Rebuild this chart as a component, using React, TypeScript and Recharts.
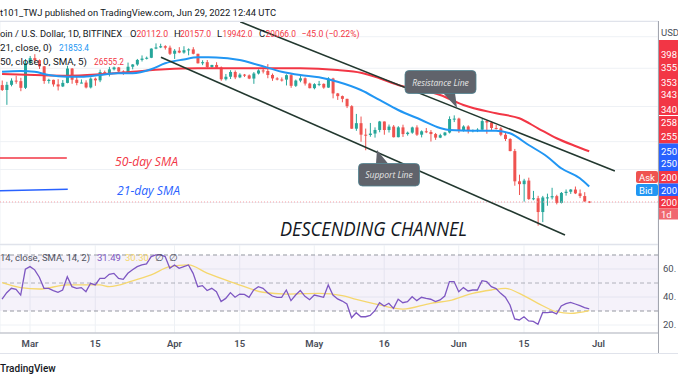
import React from 'react';
import {
  ComposedChart,
  Bar,
  Line,
  XAxis,
  YAxis,
  CartesianGrid,
  ReferenceLine,
  ReferenceArea,
} from 'recharts';

// day index counted from Mar 1 2022 (= 0); first candle is Feb 23
const FIRST_DAY = -6;

const OPEN = [
  38270, 37250, 38330, 39230, 39120, 37700,
  43190, 44420, 43920, 42450, 39150, 39400, 38420, 37990, 38740, 41940, 39420, 38730, 38810, 37780, 39670, 39290,
  41120, 40920, 41760, 42200, 41260, 41000, 42360, 42890, 43980, 44310, 44510, 46820, 47130, 47450, 47060,
  45510, 46280, 45810, 46410, 46620, 45500, 43170, 43440, 42290, 42780, 42160, 39530, 40080, 41150, 39940, 40550,
  40380, 39680, 40800, 41500, 41370, 40480, 39710, 39470, 39450, 40430, 38120, 39240, 39740, 38600,
  37630, 38470, 38530, 37750, 39690, 36550, 36010, 35470, 34060, 30080, 31010, 29100, 29050, 29280, 29870, 31300,
  29860, 30430, 28700, 30300, 29200, 29430, 30290, 29100, 29650, 29540, 29200, 28630, 29020, 29450, 31730,
  31800, 29800, 30450, 29700, 29860, 29910, 31370, 31130, 30200, 30110, 29090, 28420, 26580, 22490, 22140, 22580,
  20390, 20480, 18980, 20570, 20580, 20720, 19970, 21090, 21230, 21490, 21040, 20730, 20112,
];
const HIGH = [
  39250, 38970, 39730, 40300, 39850, 44200,
  44950, 45400, 44100, 42520, 39640, 39430, 39550, 39360, 42600, 42040, 40240, 39490, 39300, 39950, 39900, 41700,
  41470, 42320, 42400, 42300, 41540, 43340, 42990, 44220, 45090, 44800, 46900, 48190, 48100, 47700, 47600,
  46700, 47200, 47440, 46880, 47200, 45510, 43900, 43960, 42800, 43430, 42420, 40700, 41560, 41500, 40860, 40700,
  40590, 41120, 41760, 42200, 42980, 40800, 39980, 39930, 40620, 40800, 39460, 40370, 39920, 38790,
  38670, 39170, 38630, 39980, 39850, 36650, 36130, 35500, 34250, 32640, 32170, 30100, 31050, 30300, 31400, 31300,
  30780, 30690, 30500, 30750, 29600, 30420, 30650, 29800, 30200, 29850, 29380, 29250, 29550, 32200, 32380,
  31960, 30650, 30650, 29950, 30150, 31750, 31550, 31330, 30700, 30350, 29450, 28540, 26900, 23330, 22800, 22950,
  21330, 20760, 20750, 21010, 21700, 20880, 21200, 21500, 21550, 21850, 21500, 21180, 20157,
];
const LOW = [
  37050, 34320, 38010, 38550, 37000, 37450,
  42850, 43350, 41850, 38550, 38600, 37950, 37150, 37860, 38650, 38550, 38230, 38660, 37580, 37570, 38120, 38900,
  40500, 40140, 41500, 40900, 40500, 40880, 41750, 42580, 43600, 44100, 44420, 46660, 46950, 46580, 45200,
  44220, 45640, 45530, 45120, 45350, 43120, 42730, 42110, 42120, 42000, 39200, 39250, 39580, 39550, 39770, 40010,
  39550, 38540, 40580, 40820, 39750, 39180, 39290, 39030, 38200, 37700, 37880, 38880, 38180, 37580,
  37390, 38050, 37510, 37690, 35570, 35260, 34800, 33710, 30050, 29730, 27990, 26700, 28770, 28630, 29490, 29090,
  29450, 28650, 28680, 28740, 28950, 29250, 28900, 28670, 29350, 28020, 28280, 28550, 28870, 29300, 31200,
  29400, 29600, 29300, 29480, 29520, 29890, 29250, 29850, 29950, 28860, 28100, 26550, 21950, 20850, 20100, 20300,
  20260, 17600, 17950, 19650, 20350, 19800, 19900, 20780, 20980, 20960, 20500, 20100, 19942,
];
const CLOSE = [
  37250, 38330, 39230, 39120, 37700, 43190,
  44420, 43920, 42450, 39150, 39400, 38420, 37990, 38740, 41940, 39420, 38730, 38810, 37780, 39670, 39290, 41120,
  40920, 41760, 42200, 41260, 41000, 42360, 42890, 43980, 44310, 44510, 46820, 47130, 47450, 47060, 45510,
  46280, 45810, 46410, 46620, 45500, 43170, 43440, 42290, 42780, 42160, 39530, 40080, 41150, 39940, 40550, 40380,
  39680, 40800, 41500, 41370, 40480, 39710, 39470, 39450, 40430, 38120, 39240, 39740, 38600, 37630,
  38470, 38530, 37750, 39690, 36550, 36010, 35470, 34060, 30080, 31010, 29100, 29050, 29280, 29870, 31300, 29860,
  30430, 28700, 30300, 29200, 29430, 30290, 29100, 29650, 29540, 29200, 28630, 29020, 29450, 31730, 31800,
  29800, 30450, 29700, 29860, 29910, 31370, 31130, 30200, 30110, 29090, 28420, 26580, 22490, 22140, 22580, 20390,
  20480, 18980, 20570, 20580, 20720, 19970, 21090, 21230, 21490, 21040, 20730, 20112, 20066,
];

const RSI_VALUES = [
  38.4, 43.1, 46.2, 45.5, 41.4, 59.8,
  61.7, 59.4, 54.1, 46.2, 46.2, 44.6, 43.4, 45.0, 54.5, 47.4, 46.2, 46.7, 43.8, 49.8, 48.6, 53.3,
  53.3, 56.2, 56.9, 53.3, 52.6, 56.9, 59.4, 61.7, 62.9, 63.6, 68.9, 70.1, 70.1, 68.9, 60.5,
  62.9, 60.5, 61.7, 62.9, 56.9, 47.4, 48.1, 44.6, 46.2, 43.8, 36.7, 39.0, 43.1, 39.8, 42.1, 41.9,
  39.8, 45.0, 47.4, 46.2, 43.1, 40.7, 39.8, 39.8, 45.0, 37.4, 41.4, 44.6, 40.5, 38.1,
  41.4, 40.7, 39.8, 48.6, 41.4, 38.6, 37.1, 35.0, 25.2, 28.8, 25.9, 25.9, 26.9, 30.2, 35.9, 33.6,
  35.5, 31.9, 38.4, 35.9, 36.7, 40.2, 37.4, 39.8, 39.0, 38.4, 36.7, 37.9, 40.7, 51.0, 51.0,
  43.8, 46.7, 44.3, 45.0, 45.0, 51.7, 51.0, 47.4, 46.0, 42.6, 39.8, 34.3, 24.3, 23.6, 25.9, 22.9,
  22.6, 20.5, 28.8, 28.8, 29.3, 27.9, 33.6, 35.2, 36.2, 35.0, 33.8, 32.4, 31.5,
];

// moving averages at a few days
const SMA21_DAYS = [-6, -2, 1, 4, 8, 11, 15, 19, 22, 26, 29, 33, 36, 40, 45, 49, 54, 58, 62, 66, 71, 75, 79, 84, 88, 90, 95, 100, 103, 107, 111, 114, 118, 120];
const SMA21_VALUES = [41200, 41400, 41200, 40470, 40090, 40090, 40470, 40850, 40850, 41770, 43170, 44100, 44620, 44600, 43970, 42770, 41210, 40470, 39960, 39000, 37250, 35250, 33350, 31560, 30200, 29860, 29750, 29750, 29330, 27490, 25770, 24170, 22870, 21853];
const SMA50_DAYS = [-6, 1, 8, 15, 22, 29, 36, 43, 49, 58, 66, 71, 75, 79, 84, 88, 93, 100, 105, 109, 113, 117, 120];
const SMA50_VALUES = [40690, 40470, 40310, 40630, 41210, 41770, 42000, 42000, 42000, 42000, 41600, 40990, 39740, 38290, 37250, 36240, 34290, 32750, 31860, 30150, 28530, 27340, 26555];
const RSI_SMA_DAYS = [-6, -2, 2, 8, 15, 17, 22, 26, 30, 34, 38, 44, 50, 55, 62, 67, 70, 75, 80, 86, 90, 95, 99, 102, 105, 109, 113, 116, 120];
const RSI_SMA_VALUES = [50.2, 46.7, 45.7, 48.6, 48.6, 47.4, 51.5, 55.8, 61.7, 62.9, 57.0, 49.8, 43.4, 42.1, 42.6, 41.0, 38.3, 34.3, 31.4, 35.5, 37.4, 42.6, 45.0, 46.2, 42.6, 35.5, 29.5, 28.3, 30.3];

const LAST_PRICE = 20066;

// drawings, in chart coordinates (day, price)
const RESISTANCE_LINE = [{ x: 45.1, y: 54300 }, { x: 125.5, y: 23810 }];
const SUPPORT_LINE = [{ x: 28.1, y: 44630 }, { x: 114.8, y: 16720 }];
const SMA50_SWATCH = [{ x: -6.44, y: 25580 }, { x: 7.9, y: 25580 }];
const SMA21_SWATCH = [{ x: -6.44, y: 21360 }, { x: 8.1, y: 21520 }];

const TIME_TICKS = [0, 14, 31, 45, 61, 76, 92, 106, 122];
const TIME_LABELS = ['Mar', '15', 'Apr', '15', 'May', '16', 'Jun', '15', 'Jul'];
const PRICE_TICKS = [18000, 20000, 24000, 28000, 34000, 42000, 50000];
const RSI_TICKS = [20, 40, 60];

const X_DOMAIN: [number, number] = [-6.44, 134.76];
const PRICE_DOMAIN: [number, number] = [15907, 54536];
const RSI_DOMAIN: [number, number] = [14.29, 77.14];

const UP = '#26a69a';
const DOWN = '#ef5350';
const RED = '#f23645';
const BLUE = '#2196f3';
const GRID = '#eef1f5';
const CHANNEL = '#22382f';
const FONT = 'Roboto, "Open Sans", sans-serif';
const ITALIC_FONT = '"Open Sans", Roboto, sans-serif';

type Row = { d: number; open: number; high: number; low: number; close: number };

const CANDLES: Row[] = CLOSE.map((c, i) => ({
  d: FIRST_DAY + i,
  open: OPEN[i],
  high: HIGH[i],
  low: LOW[i],
  close: c,
}));
const RSI_DATA = RSI_VALUES.map((v, i) => ({ d: FIRST_DAY + i, v }));
const SMA21 = SMA21_DAYS.map((d, i) => ({ d, v: SMA21_VALUES[i] }));
const SMA50 = SMA50_DAYS.map((d, i) => ({ d, v: SMA50_VALUES[i] }));
const RSI_SMA = RSI_SMA_DAYS.map((d, i) => ({ d, v: RSI_SMA_VALUES[i] }));

const Candle = (props: any) => {
  const { x, y, width, height, payload } = props;
  if (x == null || y == null || !payload) return <g />;
  const top = Math.min(y, y + height);
  const bot = Math.max(y, y + height);
  const lh = Math.log(payload.high);
  const ll = Math.log(payload.low);
  const span = lh - ll || 1;
  // log price axis: place open/close between the scaled high and low
  const py = (p: number) => top + ((lh - Math.log(p)) / span) * (bot - top);
  const color = payload.close >= payload.open ? UP : DOWN;
  const yo = py(payload.open);
  const yc = py(payload.close);
  const cx = x + width / 2;
  return (
    <g>
      <line x1={cx} x2={cx} y1={top} y2={bot} stroke={color} strokeWidth={1} />
      <rect x={x} y={Math.min(yo, yc)} width={width} height={Math.max(1, Math.abs(yc - yo))} fill={color} />
    </g>
  );
};

const PriceTick = (props: any) => {
  const { x, y, payload } = props;
  if (payload.value !== 18000) return <g />;
  return (
    <text x={x} y={y} dy={3.5} fontSize={9.5} fill="#4a4e59" fontFamily={FONT}>
      180
    </text>
  );
};

const txt = (x: number, y: number, s: string, fill = '#131722', extra: any = {}) => (
  <text x={x} y={y} fill={fill} fontSize={9.5} dominantBaseline="central" fontFamily={FONT} {...extra}>
    {s}
  </text>
);
const fit = (w: number) => ({ textLength: w, lengthAdjust: 'spacingAndGlyphs' });

const AXIS_BOXES = [
  { y: 40, h: 75, fill: RED },
  { y: 116, h: 27.5, fill: RED },
  { y: 143.5, h: 27.5, fill: '#2962ff' },
  { y: 171, h: 12.5, fill: RED },
  { y: 183.5, h: 12.5, fill: '#2962ff' },
  { y: 196, h: 12.5, fill: RED },
  { y: 208.5, h: 11, fill: '#f0676f' },
];
const AXIS_LABELS = [
  { y: 54, s: '398' }, { y: 67, s: '355' }, { y: 82, s: '353' }, { y: 94, s: '343' }, { y: 109, s: '340' },
  { y: 122, s: '258' }, { y: 136, s: '255' }, { y: 151, s: '250' }, { y: 163, s: '250' },
  { y: 177, s: '200' }, { y: 190, s: '200' }, { y: 202.5, s: '200' }, { y: 214, s: '1d' },
];

const Overlay = () => (
  <svg width={678} height={381} style={{ position: 'absolute', left: 0, top: 0, pointerEvents: 'none' }}>
    {/* frame */}
    <line x1={0} x2={658} y1={21.5} y2={21.5} stroke="#e0e3eb" />
    <line x1={0} x2={658} y1={244.5} y2={244.5} stroke="#e0e3eb" />
    <line x1={0} x2={678} y1={353.5} y2={353.5} stroke="#e0e3eb" />
    <line x1={658.5} x2={658.5} y1={21} y2={353} stroke="#a3a6af" />

    {txt(0, 12.5, 't101_TWJ published on TradingView.com, Jun 29, 2022 12:44 UTC', '#131722', fit(276))}

    {/* symbol legend */}
    {txt(0, 33.5, 'oin / U.S. Dollar, 1D, BITFINEX', '#131722', fit(122))}
    {txt(130, 33.5, 'O')}
    {txt(136.5, 33.5, '20112.0', RED, fit(31.5))}
    {txt(174, 33.5, 'H')}
    {txt(180, 33.5, '20157.0', RED, fit(31))}
    {txt(217, 33.5, 'L')}
    {txt(222.5, 33.5, '19942.0', RED, fit(30))}
    {txt(259, 33.5, 'C')}
    {txt(265.5, 33.5, '20066.0', RED, fit(30.5))}
    {txt(301.5, 33.5, '\u221245.0 (\u22120.22%)', RED, fit(58))}
    {txt(0, 47, '21, close, 0)', '#131722', fit(52))}
    {txt(59, 47, '21853.4', BLUE, fit(30))}
    {txt(0, 61, '50, close, 0, SMA, 5)', '#131722', fit(87))}
    {txt(94, 61, '26555.2', RED, fit(30))}

    {/* drawings text */}
    <text x={115} y={161.5} fill={RED} fontSize={12} fontStyle="italic" dominantBaseline="central" fontFamily={ITALIC_FONT} textLength={63} lengthAdjust="spacingAndGlyphs">50-day SMA</text>
    <text x={117} y={190.5} fill="#2962ff" fontSize={12} fontStyle="italic" dominantBaseline="central" fontFamily={ITALIC_FONT} textLength={63} lengthAdjust="spacingAndGlyphs">21-day SMA</text>
    <text x={280} y={228} fill="#131722" fontSize={20} fontStyle="italic" dominantBaseline="central" fontFamily={ITALIC_FONT} textLength={187} lengthAdjust="spacingAndGlyphs">DESCENDING CHANNEL</text>

    <g>
      <path d="M443 93 L455 93 L457 108 Z" fill="#60636b" />
      <rect x={405} y={70.5} width={71} height={23} rx={4} fill="#60636b" stroke="#4f8391" strokeWidth={0.8} />
      <text x={440.5} y={82} fill="#e6e6e6" fontSize={8.5} fontStyle="italic" textAnchor="middle" dominantBaseline="central" fontFamily={ITALIC_FONT}>Resistance Line</text>
    </g>
    <g>
      <path d="M376 163.5 L388 163.5 L377 150 Z" fill="#60636b" />
      <rect x={358.5} y={163.5} width={61} height={22.5} rx={4} fill="#60636b" stroke="#4f8391" strokeWidth={0.8} />
      <text x={389} y={174.5} fill="#e6e6e6" fontSize={8.5} fontStyle="italic" textAnchor="middle" dominantBaseline="central" fontFamily={ITALIC_FONT}>Support Line</text>
    </g>

    {/* price scale labels */}
    {txt(661, 32, 'USD', '#4a4e59')}
    {AXIS_BOXES.map((b, i) => (
      <rect key={i} x={659} y={b.y} width={19} height={b.h} fill={b.fill} />
    ))}
    {AXIS_LABELS.map((l, i) => (
      <React.Fragment key={i}>{txt(661, l.y, l.s, '#ffffff')}</React.Fragment>
    ))}
    <rect x={636} y={171} width={22} height={12} rx={2} fill="#ef5350" />
    {txt(639, 177, 'Ask', '#ffffff')}
    <rect x={636} y={184} width={22} height={12} rx={2} fill={BLUE} />
    {txt(639, 190, 'Bid', '#ffffff')}

    {/* RSI legend */}
    {txt(0, 257, '14, close, SMA, 14, 2)', '#50535e', fit(90))}
    {txt(97, 257, '31.49', '#7e57c2')}
    {txt(125, 257, '30.30', '#f5d76e')}
    {txt(155, 257, '\u2205', '#50535e')}
    {txt(169, 257, '\u2205', '#50535e')}

    <text x={0} y={368} fill="#131722" fontSize={10} fontWeight={500} dominantBaseline="central" fontFamily={FONT}>TradingView</text>
  </svg>
);

export default function App() {
  return (
    <div style={{ position: 'relative', width: 678, height: 381, overflow: 'hidden', background: '#ffffff', fontFamily: FONT }}>
      <style>{'body{margin:0}'}</style>
      <div style={{ position: 'absolute', left: 0, top: 0 }}>
        <ComposedChart width={678} height={245} data={CANDLES} margin={{ top: 21, right: 0, bottom: 1, left: 0 }}>
          <CartesianGrid stroke={GRID} />
          <XAxis
            dataKey="d"
            type="number"
            domain={X_DOMAIN}
            allowDataOverflow
            ticks={TIME_TICKS}
            height={0}
            tick={false}
            axisLine={false}
            tickLine={false}
          />
          <YAxis
            orientation="right"
            width={20}
            scale="log"
            domain={PRICE_DOMAIN}
            allowDataOverflow
            ticks={PRICE_TICKS}
            axisLine={false}
            tickLine={false}
            tickSize={0}
            tickMargin={3}
            tick={<PriceTick />}
          />
          <ReferenceLine y={LAST_PRICE} stroke="#f7a1a8" strokeDasharray="1 2" ifOverflow="visible" />
          <Bar dataKey={(r: Row) => [r.low, r.high]} barSize={3} shape={(p: any) => <Candle {...p} />} isAnimationActive={false} />
          <Line data={SMA50} dataKey="v" type="monotone" stroke={RED} strokeWidth={2} dot={false} activeDot={false} isAnimationActive={false} />
          <Line data={SMA21} dataKey="v" type="monotone" stroke={BLUE} strokeWidth={2} dot={false} activeDot={false} isAnimationActive={false} />
          <ReferenceLine segment={RESISTANCE_LINE} stroke={CHANNEL} strokeWidth={1.6} ifOverflow="visible" />
          <ReferenceLine segment={SUPPORT_LINE} stroke={CHANNEL} strokeWidth={1.6} ifOverflow="visible" />
          <ReferenceLine segment={SMA50_SWATCH} stroke={RED} strokeWidth={1.5} ifOverflow="visible" />
          <ReferenceLine segment={SMA21_SWATCH} stroke="#2962ff" strokeWidth={1.5} ifOverflow="visible" />
        </ComposedChart>
      </div>
      <div style={{ position: 'absolute', left: 0, top: 245 }}>
        <ComposedChart width={678} height={108} data={RSI_DATA} margin={{ top: 0, right: 0, bottom: 0, left: 0 }}>
          <CartesianGrid stroke={GRID} />
          <XAxis
            dataKey="d"
            type="number"
            domain={X_DOMAIN}
            allowDataOverflow
            ticks={TIME_TICKS}
            interval={0}
            height={20}
            tickFormatter={(v: number) => TIME_LABELS[TIME_TICKS.indexOf(v)]}
            axisLine={{ stroke: '#b2b5be' }}
            tickLine={false}
            tickSize={0}
            tickMargin={7}
            tick={{ fontSize: 9.5, fill: '#4a4e59', fontWeight: 600, fontFamily: FONT }}
          />
          <YAxis
            orientation="right"
            width={20}
            domain={RSI_DOMAIN}
            allowDataOverflow
            ticks={RSI_TICKS}
            tickFormatter={(v: number) => `${v}.`}
            axisLine={false}
            tickLine={false}
            tickSize={0}
            tickMargin={5}
            tick={{ fontSize: 9.5, fill: '#4a4e59', fontFamily: FONT }}
          />
          <ReferenceArea y1={30} y2={70} fill="#7e57c2" fillOpacity={0.08} ifOverflow="visible" />
          <ReferenceLine y={70} stroke="#9598a1" strokeDasharray="4 3" />
          <ReferenceLine y={50} stroke="#9598a1" strokeDasharray="4 3" strokeOpacity={0.7} />
          <ReferenceLine y={30} stroke="#9598a1" strokeDasharray="4 3" />
          <Line data={RSI_SMA} dataKey="v" type="monotone" stroke="#f5d76e" strokeWidth={1.3} dot={false} activeDot={false} isAnimationActive={false} />
          <Line dataKey="v" type="linear" stroke="#7e57c2" strokeWidth={1.3} dot={false} activeDot={false} isAnimationActive={false} />
        </ComposedChart>
      </div>
      <Overlay />
    </div>
  );
}
